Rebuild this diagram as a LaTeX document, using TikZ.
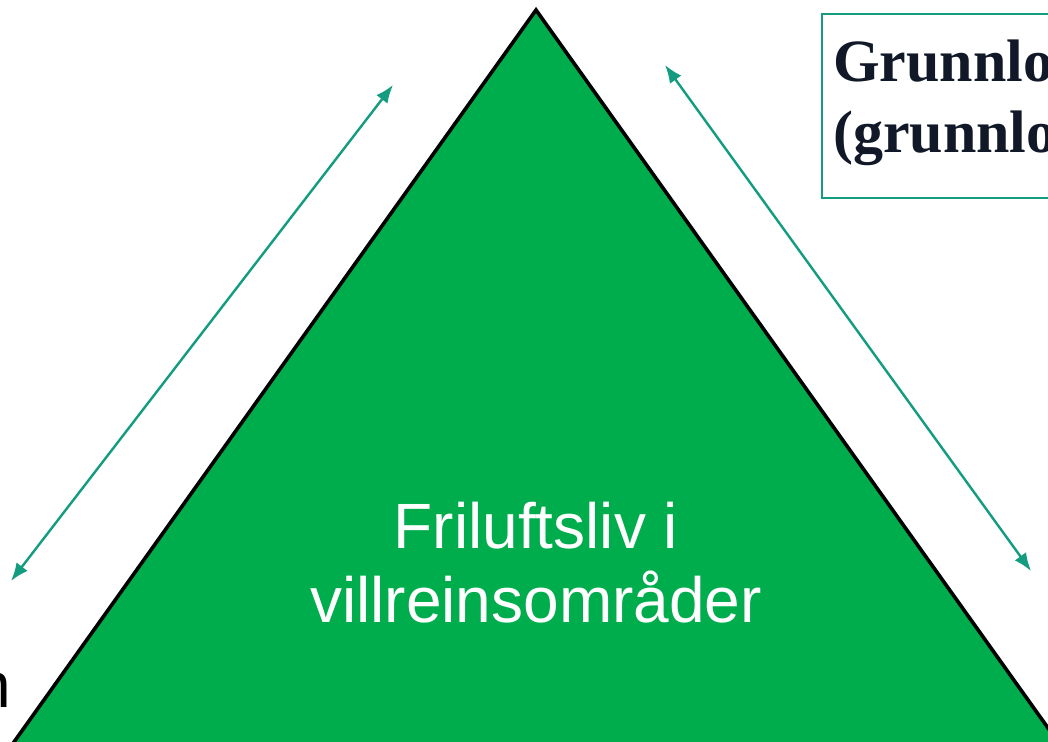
\documentclass[tikz,border=0pt]{standalone}
\usepackage{fontspec}
\setmainfont{Liberation Sans}
\newfontfamily\boxserif{Liberation Serif}
\usetikzlibrary{arrows.meta}
\definecolor{trigreen}{HTML}{00AD4D}
\definecolor{teal}{HTML}{139C7F}
\definecolor{darkink}{HTML}{111827}
\tikzset{
  link/.style={draw=teal, line width=2.4pt, {Latex[length=18pt,width=14pt]}-{Latex[length=18pt,width=14pt]}},
  tri/.style={fill=trigreen, draw=black, line width=3.6pt, line join=miter},
  boxline/.style={draw=teal, line width=2.6pt},
  boxtext/.style={font=\boxserif\bfseries\fontsize{60}{70}\selectfont, text=darkink, inner sep=0pt, anchor=base west},
  maintext/.style={font=\fontsize{64}{74}\selectfont, text=white, inner sep=0pt, anchor=base},
}
\begin{document}
\begin{tikzpicture}[x=1pt,y=-1pt]
\useasboundingbox (0,0) rectangle (1048,741);
\clip (0,0) rectangle (1048,741);
\fill[white] (0,0) rectangle (1048,741);
% triangle
\coordinate (apex) at (536,10);
\coordinate (bl) at (4,756);
\coordinate (br) at (1068,756);
\path[tri] (apex) -- (br) -- (bl) -- cycle;
\node[maintext] (t1) at (536,548) {Friluftsliv i};
\node[maintext] (t2) at (536,622) {villreinsområder};
% arrows
\coordinate (la) at (393,85);
\coordinate (lb) at (11,581);
\coordinate (ra) at (665,65);
\coordinate (rb) at (1031,571);
\draw[link] (lb) -- (la);
\draw[link] (ra) -- (rb);
% box
\draw[boxline] (822,14) rectangle (1070,198);
\node[boxtext] (g1) at (833,82) {Grunnlo};
\node[boxtext] (g2) at (833,152) {(grunnlo};
% partial text bottom left
\node[font=\fontsize{64}{74}\selectfont, inner sep=0pt, anchor=base east] (nn) at (11,707) {n};
\end{tikzpicture}
\end{document}
